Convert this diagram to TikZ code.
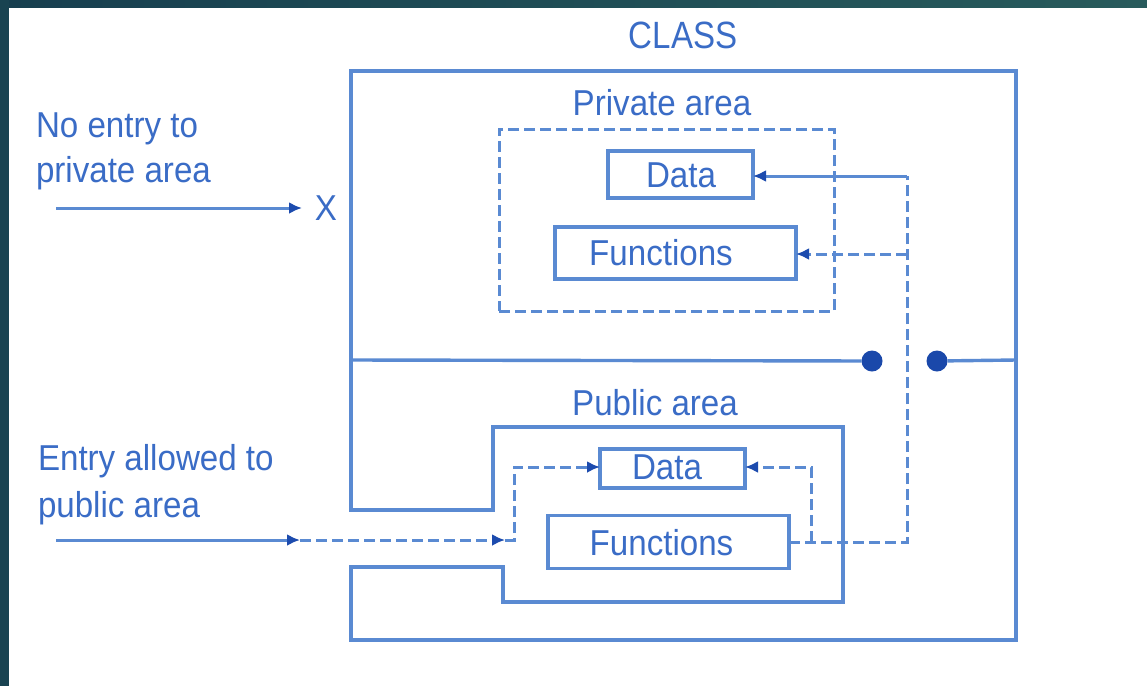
\documentclass[tikz,border=0pt]{standalone}
\usepackage{fontspec}
\setmainfont{Liberation Sans}
\newfontfamily\lblfont[FakeStretch=0.92]{Liberation Sans}
\newfontfamily\ttlfont[FakeStretch=0.87]{Liberation Sans}
\usetikzlibrary{arrows.meta}
\definecolor{edge}{HTML}{5A8AD2}
\definecolor{ink}{HTML}{3A6CC6}
\definecolor{tipc}{HTML}{1C4BAE}
\definecolor{dotc}{HTML}{1A48AA}
\definecolor{bandL}{HTML}{173F4F}
\definecolor{bandR}{HTML}{285B5C}

\begin{document}
\begin{tikzpicture}[x=1pt,y=-1pt,
  every node/.style={inner sep=0pt, outer sep=0pt},
  txt/.style={text=ink, font=\lblfont\fontsize{36}{40}\selectfont, anchor=base},
  txtw/.style={txt, anchor=base west},
  ttl/.style={text=ink, font=\ttlfont\fontsize{38}{40}\selectfont, anchor=base},
  wall/.style={draw=edge, line width=3.4pt, line join=miter},
  box/.style={draw=edge, line width=3.4pt},
  dsh/.style={dash pattern=on 11pt off 5pt},
  dbox/.style={draw=edge, line width=3pt, dsh},
  conn/.style={draw=edge, line width=3pt},
  arr/.style={-{Latex[length=13pt,width=12pt,color=tipc]}},
  dot/.style={circle, fill=dotc, minimum size=21pt}]

\useasboundingbox (0,0) rectangle (1147,686);

% page frame
\fill[white] (0,0) rectangle (1147,686);
\shade[left color=bandL, right color=bandR] (0,0) rectangle (1147,7);
\fill[bandL!85!bandR] (0,0) rectangle (9,686);

% class outline with the public area cut into it
\draw[wall] (351,71) -- (1016,71) -- (1016,640) -- (351,640) -- (351,567)
  -- (503,567) -- (503,602) -- (843,602) -- (843,427) -- (493,427)
  -- (493,510) -- (351,510) -- cycle;

% divider between private and public parts
\node[dot] (dotl) at (872,361) {};
\node[dot] (dotr) at (937,361) {};
\draw[wall] (351,360) -- (dotl);
\draw[wall] (dotr) -- (1016,360);

% labels
\node[ttl] (cls) at (683,48) {CLASS};
\node[txt] (privlbl) at (662,115) {Private area};
\node[txt] (publbl) at (655,415) {Public area};

% private area
\node[dbox, minimum width=335pt, minimum height=182pt] (privbox) at (666.5,220) {};
\node[box, minimum width=145pt, minimum height=47pt] (dpriv) at (680.5,174.5) {};
\node[box, minimum width=241pt, minimum height=52pt] (fpriv) at (675.5,253) {};
\node[txt] (dprivt) at (681,187) {Data};
\node[txt] (fprivt) at (661,265) {Functions};

% public area
\node[box, minimum width=145pt, minimum height=39pt] (dpub) at (672.5,468.5) {};
\node[box, minimum width=241pt, minimum height=53pt] (fpub) at (668.5,542) {};
\node[txt] (dpubt) at (667,479) {Data};
\node[txt] (fpubt) at (661.5,555) {Functions};

% access paths from public functions
\coordinate (vtop) at (907,176);
\coordinate (vfn) at (907,254);
\coordinate (vbot) at (907,542);
\coordinate (jpub) at (811,542);
\coordinate (jpubup) at (811,467);
\draw[conn, dsh] (fpub.east) -- (vbot) -- (vtop);
\draw[conn, arr] (vtop) -- (vtop -| dpriv.east);
\draw[conn, dsh, arr] (vfn) -- (vfn -| fpriv.east);
\draw[conn, dsh, arr] (jpub) -- (jpubup) -- (jpubup -| dpub.east);

% outside: no entry to private area
\node[txtw] (ne1) at (36,137) {No entry to};
\node[txtw] (ne2) at (36,182) {private area};
\node[txt] (xmark) at (326,220) {X};
\coordinate (inA) at (56,208);
\coordinate (inAend) at (302,208);
\draw[conn, arr] (inA) -- (inAend);

% outside: entry allowed to public area
\node[txtw] (ea1) at (38,470) {Entry allowed to};
\node[txtw] (ea2) at (38,517) {public area};
\coordinate (inB) at (56,540);
\coordinate (inBmid) at (300,540);
\coordinate (inBend) at (505,540);
\coordinate (inBcorner) at (514,540);
\coordinate (inBup) at (514,467);
\draw[conn, arr] (inB) -- (inBmid);
\draw[conn, dsh, arr] (inBmid) -- (inBend);
\draw[conn, dsh, arr] (inBend) -- (inBcorner) -- (inBup) -- (inBup -| dpub.west);
\end{tikzpicture}
\end{document}
